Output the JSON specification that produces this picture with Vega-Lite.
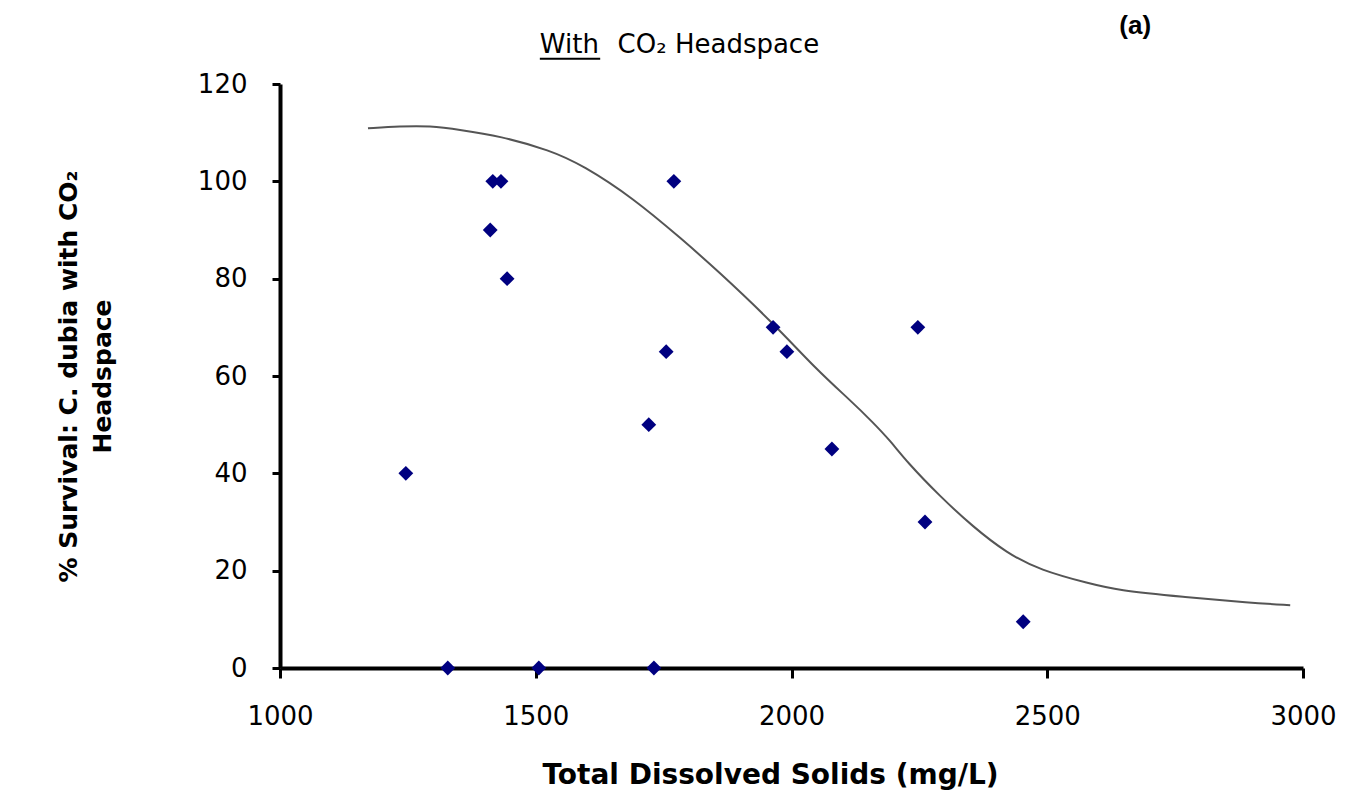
{
  "$schema": "https://vega.github.io/schema/vega-lite/v6.json",
  "width": 1023,
  "height": 584,
  "autosize": "none",
  "padding": {"left": 280, "top": 84, "right": 44, "bottom": 127},
  "background": "white",
  "config": {
    "view": {"stroke": null},
    "font": "Liberation Sans"
  },
  "datasets": {
    "points": [
      {"tds": 1246, "survival": 40},
      {"tds": 1328, "survival": 0},
      {"tds": 1411, "survival": 90},
      {"tds": 1416, "survival": 100},
      {"tds": 1432, "survival": 100},
      {"tds": 1444, "survival": 80},
      {"tds": 1506, "survival": 0},
      {"tds": 1721, "survival": 50},
      {"tds": 1731, "survival": 0},
      {"tds": 1755, "survival": 65},
      {"tds": 1770, "survival": 100},
      {"tds": 1964, "survival": 70},
      {"tds": 1991, "survival": 65},
      {"tds": 2079, "survival": 45},
      {"tds": 2247, "survival": 70},
      {"tds": 2261, "survival": 30},
      {"tds": 2453, "survival": 9.5}
    ],
    "curve": [
      {"tds": 1172, "fit": 110.9},
      {"tds": 1235, "fit": 111.3},
      {"tds": 1293, "fit": 111.4},
      {"tds": 1352, "fit": 110.6},
      {"tds": 1430, "fit": 109.3},
      {"tds": 1528, "fit": 106.4},
      {"tds": 1592, "fit": 103.3},
      {"tds": 1690, "fit": 96.6},
      {"tds": 1788, "fit": 87.9},
      {"tds": 1854, "fit": 81.8},
      {"tds": 1964, "fit": 70.9},
      {"tds": 2050, "fit": 61.2},
      {"tds": 2114, "fit": 55.1},
      {"tds": 2159, "fit": 50.5},
      {"tds": 2193, "fit": 46.7},
      {"tds": 2226, "fit": 42.3},
      {"tds": 2290, "fit": 35.3},
      {"tds": 2355, "fit": 29.0},
      {"tds": 2421, "fit": 23.6},
      {"tds": 2486, "fit": 20.1},
      {"tds": 2584, "fit": 17.3},
      {"tds": 2636, "fit": 16.0},
      {"tds": 2765, "fit": 14.6},
      {"tds": 2896, "fit": 13.4},
      {"tds": 2975, "fit": 12.9}
    ],
    "label": [{"tds": 2672, "survival": 132, "text": "(a)"}],
    "heading": [
      {"tds": 1508, "survival": 128, "text": "With"},
      {"tds": 1660, "survival": 128, "text": "CO₂ Headspace"}
    ],
    "underline": [{"tds": 1508, "tds2": 1626, "survival": 125.2}]
  },
  "layer": [
    {
      "data": {"name": "curve"},
      "mark": {"type": "line", "color": "#555555", "strokeWidth": 2, "interpolate": "basis"},
      "encoding": {
        "x": {
          "field": "tds", "type": "quantitative",
          "scale": {"domain": [1000, 3000], "nice": false, "zero": false},
          "axis": {
            "title": "Total Dissolved Solids (mg/L)",
            "values": [1000, 1500, 2000, 2500, 3000],
            "format": "d",
            "grid": false,
            "labelFlush": false,
            "domainColor": "black", "domainWidth": 4,
            "tickColor": "black", "tickWidth": 3, "tickSize": 10,
            "labelFontSize": 26, "labelColor": "black", "labelPadding": 25,
            "labelFont": "DejaVu Sans",
            "titleFontSize": 28, "titleFontWeight": "bold", "titleColor": "black",
            "titleFont": "DejaVu Sans",
            "titlePadding": 32, "titleX": 490
          }
        },
        "y": {
          "field": "fit", "type": "quantitative",
          "scale": {"domain": [0, 120], "nice": false},
          "axis": {
            "title": ["% Survival: C. dubia with CO₂", "Headspace"],
            "values": [0, 20, 40, 60, 80, 100, 120],
            "format": "d",
            "grid": false,
            "labelFlush": false,
            "domainColor": "black", "domainWidth": 4,
            "tickColor": "black", "tickWidth": 3, "tickSize": 8,
            "labelFontSize": 26, "labelColor": "black", "labelPadding": 25,
            "labelFont": "DejaVu Sans",
            "titleFontSize": 25, "titleFontWeight": "bold", "titleColor": "black",
            "titleFont": "DejaVu Sans", "titleLineHeight": 34,
            "titlePadding": 82
          }
        }
      }
    },
    {
      "data": {"name": "points"},
      "mark": {"type": "point", "shape": "diamond", "filled": true, "color": "#000080", "size": 220, "opacity": 1},
      "encoding": {
        "x": {"field": "tds", "type": "quantitative"},
        "y": {"field": "survival", "type": "quantitative"}
      }
    },
    {
      "data": {"name": "label"},
      "mark": {"type": "text", "fontSize": 26, "fontWeight": "bold", "font": "Liberation Sans", "color": "black"},
      "encoding": {
        "x": {"field": "tds", "type": "quantitative"},
        "y": {"field": "survival", "type": "quantitative"},
        "text": {"field": "text"}
      }
    },
    {
      "data": {"name": "heading"},
      "mark": {"type": "text", "fontSize": 26, "font": "DejaVu Sans", "color": "black", "align": "left"},
      "encoding": {
        "x": {"field": "tds", "type": "quantitative"},
        "y": {"field": "survival", "type": "quantitative"},
        "text": {"field": "text"}
      }
    },
    {
      "data": {"name": "underline"},
      "mark": {"type": "rule", "color": "black", "strokeWidth": 2},
      "encoding": {
        "x": {"field": "tds", "type": "quantitative"},
        "x2": {"field": "tds2"},
        "y": {"field": "survival", "type": "quantitative"}
      }
    }
  ]
}
